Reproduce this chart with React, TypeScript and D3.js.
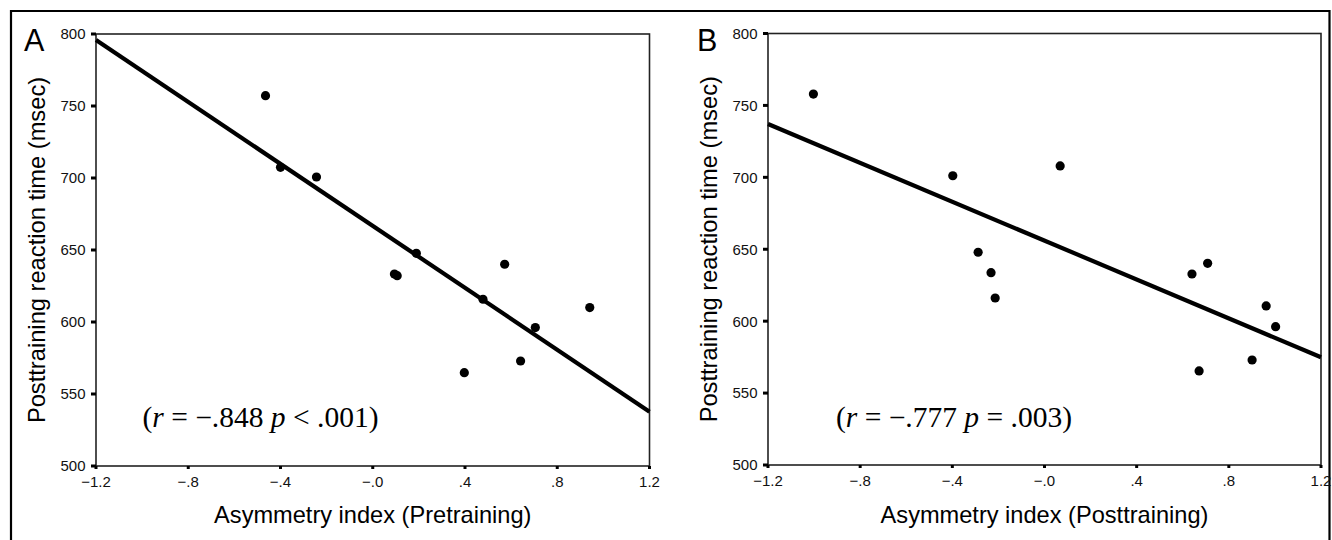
import React from "react";
import * as d3 from "d3";

const xTicks = [-1.2, -0.8, -0.4, 0, 0.4, 0.8, 1.2];
const xTickLabels = ["\u22121.2", "\u2212.8", "\u2212.4", "\u2212.0", ".4", ".8", "1.2"];
const yTicks = [500, 550, 600, 650, 700, 750, 800];

const preX = [-0.465, -0.4, -0.244, 0.189, 0.572, 0.094, 0.106, 0.478, 0.941, 0.705, 0.641, 0.397];
const preY = [757.2, 707.4, 700.7, 647.7, 640.1, 633.3, 632.2, 615.8, 610.0, 596.1, 572.9, 564.8];
const preLineX = [-1.2, 1.2];
const preLineY = [795.8, 537.7];

const postX = [-1.003, -0.398, 0.068, -0.288, -0.232, -0.214, 0.708, 0.64, 0.962, 1.003, 0.901, 0.671];
const postY = [757.9, 701.1, 707.9, 647.9, 633.7, 616.1, 640.2, 632.8, 610.6, 596.2, 573.0, 565.4];
const postLineX = [-1.2, 1.2];
const postLineY = [737.1, 574.9];

const panels = [
  {
    letter: "A",
    xs: preX, ys: preY, lx: preLineX, ly: preLineY,
    xTitle: "Asymmetry index (Pretraining)",
    stat: ["(", "r", " = \u2212.848 ", "p", " < .001)"],
    left: 96, right: 649.5, top: 34, bottom: 466,
    letterX: 24, statX: 142.5,
  },
  {
    letter: "B",
    xs: postX, ys: postY, lx: postLineX, ly: postLineY,
    xTitle: "Asymmetry index (Posttraining)",
    stat: ["(", "r", " = \u2212.777 ", "p", " = .003)"],
    left: 768, right: 1321, top: 33.5, bottom: 465,
    letterX: 697, statX: 836,
  },
];

const sans = "'Liberation Sans', Arial, sans-serif";
const serif = "'Liberation Serif', 'Times New Roman', serif";

function Panel({ p }: { p: any }) {
  const x = d3.scaleLinear().domain([-1.2, 1.2]).range([p.left, p.right]);
  const y = d3.scaleLinear().domain([500, 800]).range([p.bottom, p.top]);
  const line = d3
    .line<number>()
    .x((_, i) => x(p.lx[i]))
    .y((_, i) => y(p.ly[i]));
  const cx = (p.left + p.right) / 2;
  const cy = (p.top + p.bottom) / 2;
  return (
    <g>
      <text x={p.letterX} y={50.5} fontFamily={sans} fontSize={30.5} fill="#000">
        {p.letter}
      </text>
      <rect
        x={p.left}
        y={p.top}
        width={p.right - p.left}
        height={p.bottom - p.top}
        fill="none"
        stroke="#222"
        strokeWidth={1.6}
      />
      {yTicks.map((t) => (
        <g key={"y" + t}>
          <line x1={p.left - 5} x2={p.left} y1={y(t)} y2={y(t)} stroke="#000" strokeWidth={3} />
          <text
            x={p.left - 10.5}
            y={y(t)}
            dy="0.36em"
            textAnchor="end"
            fontFamily={sans}
            fontSize={15}
            fill="#111"
          >
            {t}
          </text>
        </g>
      ))}
      {xTicks.map((t, i) => (
        <g key={"x" + i}>
          <line x1={x(t)} x2={x(t)} y1={p.bottom} y2={p.bottom + 3} stroke="#000" strokeWidth={3} />
          <text
            x={x(t)}
            y={p.bottom + 21}
            textAnchor="middle"
            fontFamily={sans}
            fontSize={15}
            fill="#111"
          >
            {xTickLabels[i]}
          </text>
        </g>
      ))}
      <path d={line(p.lx) || ""} fill="none" stroke="#000" strokeWidth={4.2} />
      {p.xs.map((v: number, i: number) => (
        <circle key={"c" + i} cx={x(v)} cy={y(p.ys[i])} r={4.6} fill="#000" />
      ))}
      <text
        x={cx}
        y={523}
        textAnchor="middle"
        fontFamily={sans}
        fontSize={23.6}
        fill="#000"
      >
        {p.xTitle}
      </text>
      <text
        transform={`translate(${p.left - 51.5},${cy}) rotate(-90)`}
        textAnchor="middle"
        fontFamily={sans}
        fontSize={23.7}
        fill="#000"
      >
        Posttraining reaction time (msec)
      </text>
      <text
        x={p.statX}
        y={427}
        fontFamily={serif}
        fontSize={28.5}
        fill="#000"
        textLength={236}
        lengthAdjust="spacingAndGlyphs"
      >
        <tspan>{p.stat[0]}</tspan>
        <tspan fontStyle="italic">{p.stat[1]}</tspan>
        <tspan>{p.stat[2]}</tspan>
        <tspan fontStyle="italic">{p.stat[3]}</tspan>
        <tspan>{p.stat[4]}</tspan>
      </text>
    </g>
  );
}

export default function App() {
  return (
    <svg
      width={1332}
      height={540}
      style={{ position: "absolute", left: 0, top: 0, background: "#fff" }}
    >
      <rect x={0} y={0} width={1332} height={540} fill="#fff" />
      <path d="M11,545 L11,11 L1329.5,11 L1329.5,545" fill="none" stroke="#000" strokeWidth={2.2} />
      {panels.map((p) => (
        <Panel key={p.letter} p={p} />
      ))}
    </svg>
  );
}
